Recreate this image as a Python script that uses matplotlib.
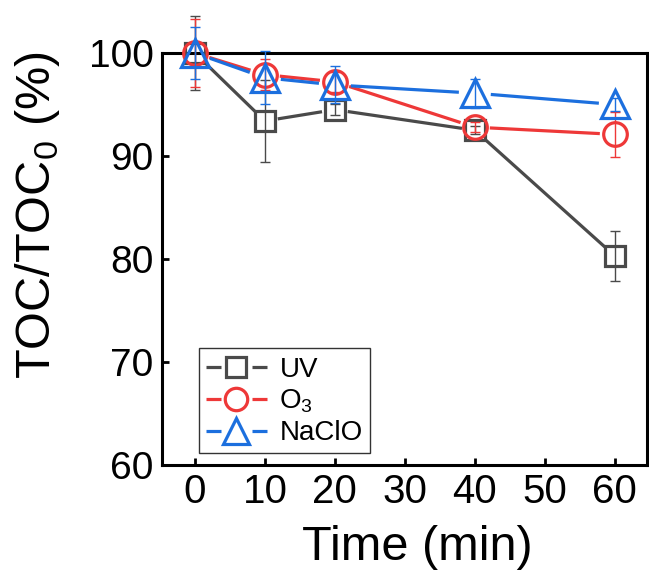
import numpy as np
import matplotlib
matplotlib.use("Agg")
import matplotlib.pyplot as plt
from matplotlib.lines import Line2D
from matplotlib.legend_handler import HandlerBase

plt.rcParams['font.family'] = ['Liberation Sans', 'DejaVu Sans']
plt.rcParams['mathtext.fontset'] = 'custom'
plt.rcParams['mathtext.rm'] = 'Liberation Sans'

time = [0, 10, 20, 40, 60]
uv = [100.0, 93.4, 94.5, 92.5, 80.3]
uv_err = [3.6, 4.0, 0.5, 0.4, 2.45]
o3 = [100.0, 97.9, 97.2, 92.8, 92.1]
o3_err = [3.3, 1.5, 1.0, 0.5, 2.2]
naclo = [100.0, 97.6, 96.9, 96.1, 95.0]
naclo_err = [2.5, 2.6, 1.8, 1.4, 0.6]

labels = ['UV', 'O$_3$', 'NaClO']
colors = ['#4a4a4a', '#ee3838', '#1c6fde']
markers = ['s', 'o', '^']
msizes = [14.5, 17, 20]
gaps = [13, 15, 16]   # px from marker centre where the line stops

fig = plt.figure(figsize=(6.49, 5.70), dpi=100)
ax = fig.add_axes([162/649, 105/570, 485/649, 412/570])
ax.set_xlim(-4.7, 64.6)
ax.set_ylim(60, 100)

def gapped_line(x, y, gap, **kw):
    # draw segments between points, stopping short of each marker (Origin style)
    pts = ax.transData.transform(np.column_stack([x, y]))
    inv = ax.transData.inverted()
    for p0, p1 in zip(pts[:-1], pts[1:]):
        d = p1 - p0
        n = np.hypot(*d)
        if n <= 2 * gap:
            continue
        u = d / n
        a = inv.transform(p0 + u * gap)
        b = inv.transform(p1 - u * gap)
        ax.plot([a[0], b[0]], [a[1], b[1]], clip_on=False, solid_capstyle='butt', **kw)

class GapHandler(HandlerBase):
    # legend key: short line - open marker - short line
    def create_artists(self, legend, orig, xd, yd, width, height, fontsize, trans):
        c = orig.get_color()
        y = height / 2 - yd
        seg = width * 0.25
        l1 = Line2D([-xd, -xd + seg], [y, y], color=c, lw=2.3, solid_capstyle='butt')
        l2 = Line2D([-xd + width - seg, -xd + width], [y, y], color=c, lw=2.3, solid_capstyle='butt')
        m = Line2D([-xd + width / 2], [y], ls='none', marker=orig.get_marker(),
                   ms=orig.get_markersize(), mfc='none', mec=c, mew=2.3)
        arts = [l1, l2, m]
        for a in arts:
            a.set_transform(trans)
        return arts

series = [(uv, uv_err), (o3, o3_err), (naclo, naclo_err)]
handles = []
for i, (vals, err) in enumerate(series):
    c = colors[i]
    z = 3 + i * 3
    gapped_line(time, vals, gaps[i], color=c, lw=2.3, zorder=z)
    ax.errorbar(time, vals, yerr=err, fmt='none', ecolor=c, elinewidth=1.0,
                capsize=3.5, capthick=1.0, zorder=z + 1, clip_on=False)
    ax.plot(time, vals, ls='none', marker=markers[i], ms=msizes[i], mfc='none',
            mec=c, mew=2.3, zorder=z + 2, clip_on=False)
    handles.append(Line2D([], [], color=c, marker=markers[i], ms=msizes[i] * 0.95))

ax.set_xticks([0, 10, 20, 30, 40, 50, 60])
ax.set_yticks([60, 70, 80, 90, 100])
ax.tick_params(direction='in', length=5, width=2, pad=6)
ax.tick_params(axis='x', labelsize=29)
ax.tick_params(axis='y', labelsize=28)
for s in ax.spines.values():
    s.set_linewidth(2.2)

ax.set_xlabel('Time (min)', fontsize=35)
ax.xaxis.set_label_coords(0.526, -0.145)
ax.set_ylabel('TOC/TOC$_0$ (%)', fontsize=35)
ax.yaxis.set_label_coords(-0.206, 0.607)

leg = ax.legend(handles, labels, loc='lower left', bbox_to_anchor=(0.076, 0.029),
                borderaxespad=0, fontsize=20, frameon=True, fancybox=False,
                handlelength=2.2, handleheight=1.0, handletextpad=0.45,
                labelspacing=0.12, borderpad=0.25,
                handler_map={Line2D: GapHandler()})
leg.get_frame().set_edgecolor('black')
leg.get_frame().set_linewidth(1.0)

fig.savefig('out.png', dpi=100)
